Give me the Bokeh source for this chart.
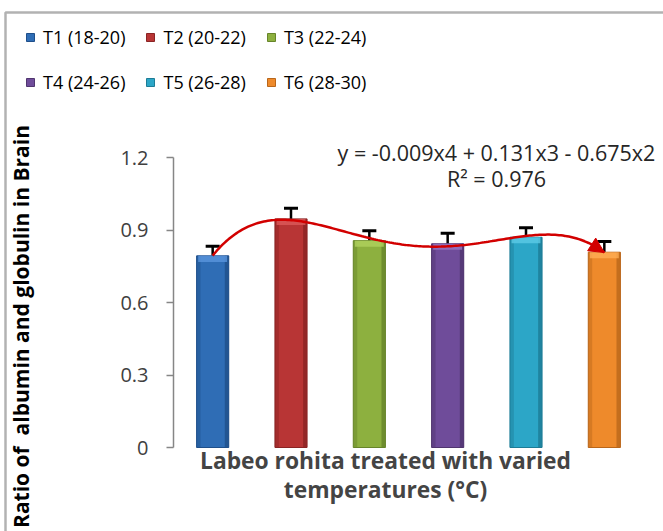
import numpy as np
from bokeh.plotting import figure
from bokeh.models import (ColumnDataSource, Whisker, TeeHead, Legend, LegendItem,
                          Label, Arrow, NormalHead, BoxAnnotation, FixedTicker, Range1d)
from bokeh.embed import file_html
from bokeh.resources import INLINE

# ---- data ----
groups = ["T1 (18-20)", "T2 (20-22)", "T3 (22-24)", "T4 (24-26)", "T5 (26-28)", "T6 (28-30)"]
ratios = [0.793, 0.946, 0.856, 0.843, 0.870, 0.808]
errors = [0.040, 0.044, 0.041, 0.044, 0.039, 0.044]
y_ticks = [0, 0.3, 0.6, 0.9, 1.2]
y_tick_labels = ["0", "0.3", "0.6", "0.9", "1.2"]
equation = "y = -0.009x4 + 0.131x3 - 0.675x2"
r_squared = "R\u00b2 = 0.976"

# ---- styling ----
fills = ["#2f6db5", "#b83535", "#8db03f", "#6f4c9a", "#2ca6c7", "#ee8a2b"]
darks = ["#1f4f8a", "#8a2424", "#67852a", "#50356f", "#1d7c96", "#b9661a"]
lights = ["#5a95dd", "#dc5a5a", "#b0d25e", "#9a78c4", "#5ccbe6", "#ffae55"]
FONT = "Open Sans"
BAR_W = 0.41

W, H = 663, 531
# pixel geometry of the value axis inside the canvas
AX_LEFT, AX_BOTTOM, AX_TOP = 173, 447, 157
PX_PER_X = 470 / 6
PX_PER_Y = (AX_BOTTOM - AX_TOP) / 1.2


def x_at(px):
    return (px - AX_LEFT) / PX_PER_X + 0.5


def y_at(py):
    return (AX_BOTTOM - py) / PX_PER_Y


xs = list(range(1, len(ratios) + 1))
src = ColumnDataSource(dict(
    x=xs, top=ratios, upper=[r + e for r, e in zip(ratios, errors)],
    fill=fills, dark=darks, light=lights, label=groups,
))

p = figure(width=W, height=H, output_backend="svg", toolbar_location=None,
           x_range=Range1d(x_at(0), x_at(W)), y_range=Range1d(y_at(H), y_at(0)),
           min_border=0)
p.outline_line_color = None
p.grid.visible = False
p.xaxis.visible = False

yax = p.yaxis[0]
yax.fixed_location = 0.5
yax.bounds = (0, 1.2)
yax.ticker = FixedTicker(ticks=y_ticks)
yax.major_label_overrides = {t: s for t, s in zip(y_ticks, y_tick_labels)}
yax.axis_line_color = "#868686"
yax.axis_line_width = 1.5
yax.major_tick_line_color = "#868686"
yax.major_tick_line_width = 1.5
yax.major_tick_in = 0
yax.major_tick_out = 7
yax.minor_tick_out = 0
yax.minor_tick_in = 0
yax.major_label_standoff = 18
yax.major_label_text_font = FONT
yax.major_label_text_font_size = "20px"
yax.major_label_text_color = "#404040"

# bar body with bevelled edges
bars = p.vbar(x="x", top="top", width=BAR_W, source=src,
              fill_color="fill", line_color="dark", line_width=1)
edge_w = 0.05
p.vbar(x=[x - BAR_W / 2 + edge_w / 2 for x in xs], top=ratios, width=edge_w,
       fill_color=darks, fill_alpha=0.45, line_color=None)
p.vbar(x=[x + BAR_W / 2 - edge_w / 2 for x in xs], top=ratios, width=edge_w,
       fill_color=darks, fill_alpha=0.8, line_color=None)
p.vbar(x=xs, top=ratios, bottom=[r - 0.025 for r in ratios], width=BAR_W * 0.9,
       fill_color=lights, fill_alpha=0.8, line_color=None)

# error bars (upper side only)
p.add_layout(Whisker(source=src, base="x", lower="top", upper="upper",
                     line_color="black", line_width=2.5,
                     upper_head=TeeHead(size=14, line_color="black", line_width=3),
                     lower_head=None))

# 4th-order polynomial trendline with arrow at the end
coef = np.polyfit(xs, ratios, 4)
tx = np.linspace(1, 6, 200)
ty = np.polyval(coef, tx)
p.line(tx, ty, line_color="#d20000", line_width=2.5)
p.add_layout(Arrow(x_start=5.85, y_start=float(np.polyval(coef, 5.85)),
                   x_end=6.0, y_end=float(np.polyval(coef, 6.0)),
                   line_color="#d20000", line_width=2.5,
                   end=NormalHead(size=15, fill_color="#d20000", line_color="#d20000")))

# legend: two rows of three, anchored by its bottom-left corner
items = [LegendItem(label=g, renderers=[bars], index=i) for i, g in enumerate(groups)]
legend = Legend(items=items, orientation="horizontal", ncols=3,
                location=(25, H - 94),
                glyph_width=10, glyph_height=10, label_standoff=8,
                label_height=25, spacing=20, padding=0, margin=0,
                label_text_font=FONT, label_text_font_size="18px",
                label_text_color="#000000",
                border_line_color=None, background_fill_alpha=0)
p.add_layout(legend, "center")

# titles and equation text
p.add_layout(Label(x=x_at(20), y=y_at(326), text="Ratio of\u00a0 albumin and globulin in Brain",
                   angle=np.pi / 2, text_align="center", text_baseline="middle",
                   text_font=FONT, text_font_style="bold", text_font_size="21px",
                   text_color="#000000"))
p.add_layout(Label(x=x_at(385), y=y_at(460), text="Labeo rohita treated with varied",
                   text_align="center", text_baseline="middle",
                   text_font=FONT, text_font_style="bold", text_font_size="22.8px"))
p.add_layout(Label(x=x_at(385), y=y_at(489), text="temperatures (\u00b0C)",
                   text_align="center", text_baseline="middle",
                   text_font=FONT, text_font_style="bold", text_font_size="22.8px"))
p.add_layout(Label(x=x_at(496), y=y_at(152), text=equation,
                   text_align="center", text_baseline="middle",
                   text_font=FONT, text_font_size="21.5px", text_color="#262626"))
p.add_layout(Label(x=x_at(496), y=y_at(178), text=r_squared,
                   text_align="center", text_baseline="middle",
                   text_font=FONT, text_font_size="21.5px", text_color="#262626"))

# chart frame border
p.add_layout(BoxAnnotation(left=x_at(5), right=x_at(W + 20), top=y_at(12), bottom=y_at(H + 20),
                           fill_alpha=0, line_color="black", line_width=2.5))

open("out.html", "w").write(file_html(p, INLINE))
